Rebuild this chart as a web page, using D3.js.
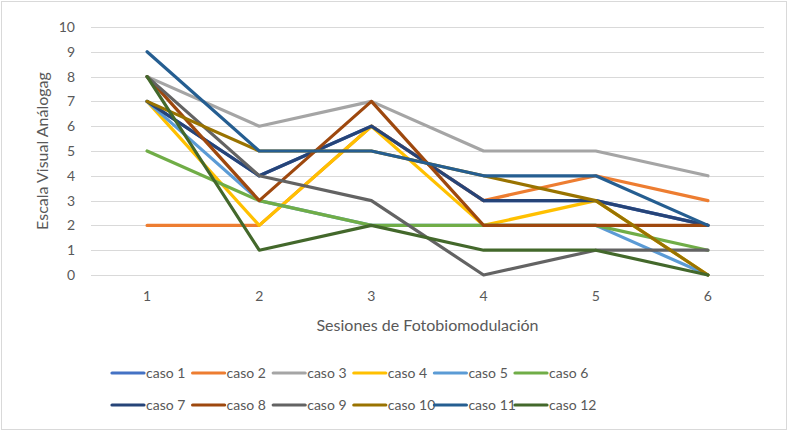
<!DOCTYPE html>
<html>
<head>
<meta charset="utf-8">
<script src="https://cdn.jsdelivr.net/npm/d3@7"></script>
<style>
  body { margin: 0; background: #fff; }
  text { font-family: Lato, "Open Sans", sans-serif; fill: #595959; }
</style>
</head>
<body>
<script>
// categories and tick labels
var sesiones = ["1", "2", "3", "4", "5", "6"];
var yTicks = [0, 1, 2, 3, 4, 5, 6, 7, 8, 9, 10];
var casos = ["caso 1", "caso 2", "caso 3", "caso 4", "caso 5", "caso 6",
             "caso 7", "caso 8", "caso 9", "caso 10", "caso 11", "caso 12"];
var colores = ["#4472C4", "#ED7D31", "#A5A5A5", "#FFC000", "#5B9BD5", "#70AD47",
               "#264478", "#9E480E", "#636363", "#997300", "#255E91", "#43682B"];

// series values
var caso1  = [7, 4, 6, 3, 3, 2];
var caso2  = [2, 2, 6, 3, 4, 3];
var caso3  = [8, 6, 7, 5, 5, 4];
var caso4  = [7, 2, 6, 2, 3, 0];
var caso5  = [7, 3, 2, 2, 2, 0];
var caso6  = [5, 3, 2, 2, 2, 1];
var caso7  = [7, 4, 6, 3, 3, 2];
var caso8  = [8, 3, 7, 2, 2, 2];
var caso9  = [8, 4, 3, 0, 1, 1];
var caso10 = [7, 5, 5, 4, 3, 0];
var caso11 = [9, 5, 5, 4, 4, 2];
var caso12 = [8, 1, 2, 1, 1, 0];
var valores = [caso1, caso2, caso3, caso4, caso5, caso6,
               caso7, caso8, caso9, caso10, caso11, caso12];

var W = 789, H = 432;
var margin = {top: 27, right: 25, bottom: 157, left: 91},
    width = W - margin.left - margin.right,
    height = H - margin.top - margin.bottom;

var svg = d3.select("body").append("svg")
    .attr("width", W)
    .attr("height", H);

// outer chart border
svg.append("rect")
    .attr("x", 1.5).attr("y", 1.5)
    .attr("width", W - 4).attr("height", H - 4)
    .attr("fill", "#fff")
    .attr("stroke", "#d9d9d9");

var g = svg.append("g")
    .attr("transform", "translate(" + margin.left + "," + margin.top + ")");

var x = d3.scaleBand().domain(sesiones).range([0, width]);
var y = d3.scaleLinear().domain([0, 10]).range([height, 0]);

// gridlines
g.selectAll(".grid")
  .data(yTicks)
  .enter().append("line")
    .attr("x1", 0).attr("x2", width)
    .attr("y1", function(d) { return Math.round(y(d)) + 0.5; })
    .attr("y2", function(d) { return Math.round(y(d)) + 0.5; })
    .attr("stroke", "#d9d9d9")
    .attr("stroke-width", 1);

// y axis labels
var yAxis = g.append("g")
    .call(d3.axisLeft(y).tickValues(yTicks).tickSize(0).tickPadding(16));
yAxis.select(".domain").remove();
yAxis.selectAll("text").style("font-size", "14px").attr("fill", "#595959");

// x axis labels
var xAxis = g.append("g")
    .attr("transform", "translate(0," + height + ")")
    .call(d3.axisBottom(x).tickSize(0).tickPadding(16));
xAxis.select(".domain").remove();
xAxis.selectAll("text").style("font-size", "14px").attr("fill", "#595959");

// axis titles
svg.append("text")
    .attr("transform", "translate(48," + (margin.top + height / 2) + ") rotate(-90)")
    .attr("text-anchor", "middle")
    .style("font-size", "16px")
    .text("Escala Visual Análogag");

svg.append("text")
    .attr("x", margin.left + width / 2)
    .attr("y", 331)
    .attr("text-anchor", "middle")
    .style("font-size", "16px")
    .text("Sesiones de Fotobiomodulación");

// lines
var line = d3.line()
    .x(function(d, i) { return x(sesiones[i]) + x.bandwidth() / 2; })
    .y(function(d) { return y(d); });

g.selectAll(".serie")
  .data(valores)
  .enter().append("path")
    .attr("class", "serie")
    .attr("d", line)
    .attr("fill", "none")
    .attr("stroke", function(d, i) { return colores[i]; })
    .attr("stroke-width", 3.2)
    .attr("stroke-linejoin", "round")
    .attr("stroke-linecap", "round");

// legend
var legend = svg.selectAll(".leg")
  .data(casos)
  .enter().append("g")
    .attr("class", "leg")
    .attr("transform", function(d, i) {
      return "translate(" + (112 + (i % 6) * 80.6) + "," + (373 + Math.floor(i / 6) * 32) + ")";
    });

legend.append("line")
    .attr("x1", 0).attr("x2", 32)
    .attr("y1", 0).attr("y2", 0)
    .attr("stroke", function(d, i) { return colores[i]; })
    .attr("stroke-width", 3.2)
    .attr("stroke-linecap", "round");

legend.append("text")
    .attr("x", 34)
    .attr("y", 5)
    .style("font-size", "14px")
    .text(function(d) { return d; });
</script>
</body>
</html>
